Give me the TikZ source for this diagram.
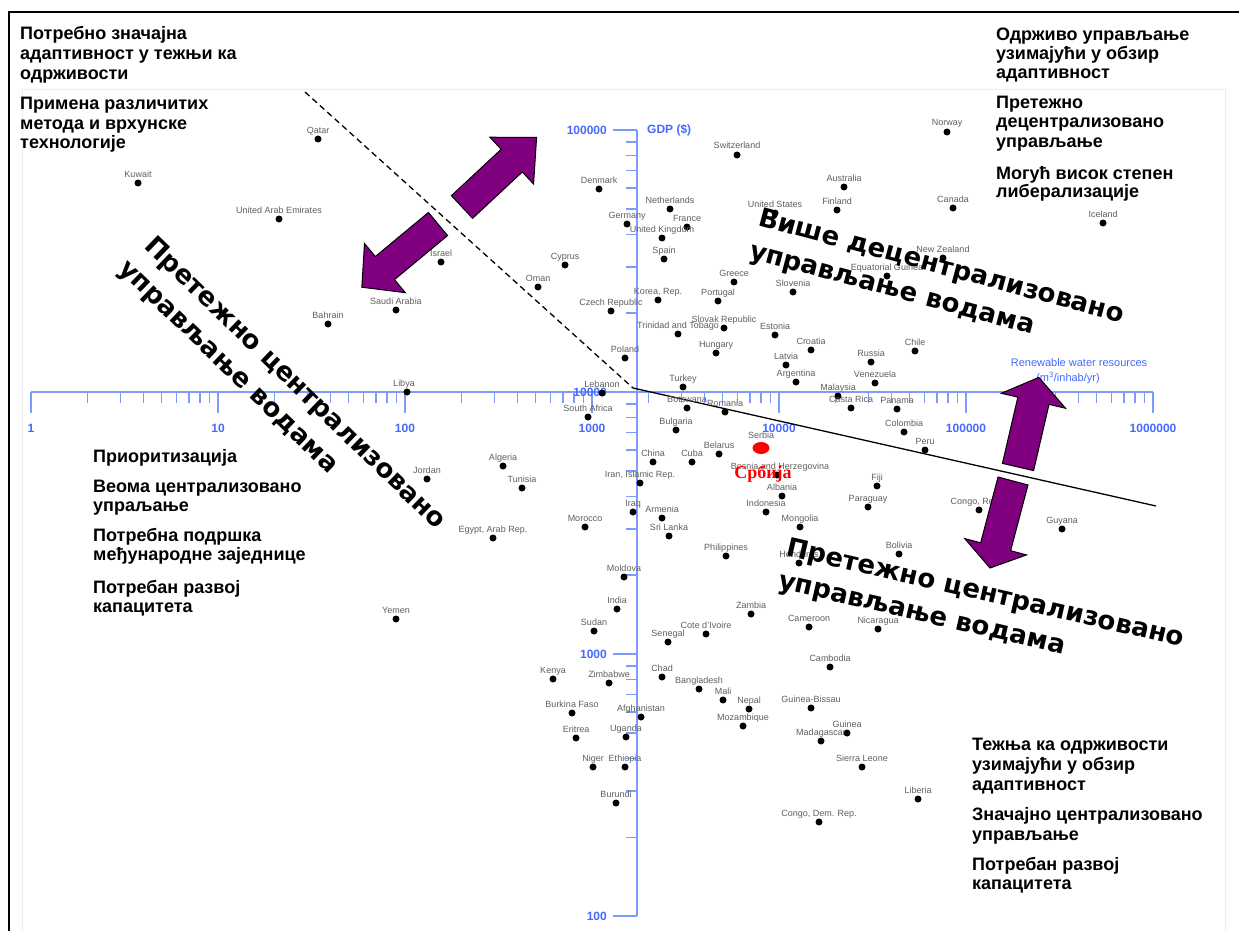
\documentclass[tikz,border=0pt]{standalone}
\usepackage{fontspec}
\setmainfont{Liberation Sans}
\newfontfamily\dvfont{DejaVu Sans}
\newfontfamily\rsfont{Liberation Serif}
\usetikzlibrary{calc,shapes.geometric}
\definecolor{axisblue}{RGB}{125,155,255}
\definecolor{labelblue}{RGB}{70,105,255}
\definecolor{arrowpurple}{RGB}{128,0,128}
\definecolor{ctrygray}{RGB}{95,95,95}
\tikzset{
 dot/.style={circle, fill=black, inner sep=0pt, minimum size=7pt},
 clabel/.style={font=\fontsize{9}{9}\selectfont, text=ctrygray, inner sep=0pt, anchor=base},
 axisline/.style={draw=axisblue, line width=1.3pt},
 axislabel/.style={font=\fontsize{12}{12}\selectfont\bfseries, text=labelblue, inner sep=0pt},
 blockarrow/.style={fill=arrowpurple, draw=black, line width=1pt, line join=miter},
 bigtext/.style={font=\fontsize{26}{26}\selectfont\dvfont\bfseries, inner sep=0pt, anchor=base west},
 info/.style={font=\fontsize{18}{20}\selectfont\bfseries, inner sep=0pt, anchor=base west},
 serbdot/.style={ellipse, fill=red, inner sep=0pt, minimum width=17pt, minimum height=12pt},
}
\newcommand\ctry[5][0]{%
 \node[dot] (#2) at (#3,#4) {};
 \node[clabel] (#2-l) at ([xshift=#1pt,yshift=6pt]#2.center) {#5};}
\newcommand\blockarr[6]{%
 \draw[blockarrow, shift={(#1)}, rotate=#2] (0,#4) -- ({#3-#6},#4) -- ({#3-#6},#5) -- (#3,0) -- ({#3-#6},-#5) -- ({#3-#6},-#4) -- (0,-#4) -- cycle;}
\begin{document}
\begin{tikzpicture}[x=1pt,y=-1pt]
\useasboundingbox (0,0) rectangle (1239,931);
\fill[white] (0,0) rectangle (1239,931);
% faint inner frame and outer frame
\draw[black!7, line width=1pt] (22,931) -- (22,90) -- (1225,90) -- (1225,931);
\draw[black, line width=2pt] (9,931) -- (9,12) -- (1239,12);
% x axis
\draw[axisline] (31,392) -- (1153,392);
\foreach \d in {0,...,6} \draw[axisline] ({31+187*\d},392) -- ({31+187*\d},413);
\foreach \d in {0,...,5} \foreach \k in {2,...,9} \draw[axisline] ({31+187*(\d+log10(\k))},392) -- ({31+187*(\d+log10(\k))},403);
\foreach \d/\t in {0/1,1/10,2/100,3/1000,4/10000,5/100000,6/1000000} \node[axislabel] at ({31+187*\d},428) {\t};
% y axis
\draw[axisline] (637,130) -- (637,916);
\foreach \j in {0,...,3} \draw[axisline] (613,{130+262*\j}) -- (637,{130+262*\j});
\foreach \e in {0,1,2} \foreach \k in {2,...,9} \draw[axisline] (626,{916-262*(\e+log10(\k))}) -- (637,{916-262*(\e+log10(\k))});
\foreach \j/\t in {0/100000,1/10000,2/1000,3/100} \node[axislabel, anchor=east] at (607,{130+262*\j}) {\t};
\node[axislabel, anchor=west] (gdp) at (647,130) {GDP (\$)};
\node[font=\fontsize{11}{11}\selectfont, text=labelblue, inner sep=0pt] (rwr) at (1079,363) {Renewable water resources};
\node[font=\fontsize{11}{11}\selectfont, text=labelblue, inner sep=0pt] (rwr2) at (1068,378) {(m\textsuperscript{3}/inhab/yr)};
% division lines
\coordinate (dA) at (305,92);
\coordinate (dO) at (633,388);
\coordinate (dB) at (1156,506);
\draw[black, line width=1.3pt, dash pattern=on 6pt off 4pt] (dA) -- (dO);
\draw[black, line width=1.3pt] (dO) -- (dB);
% countries
\ctry{qat}{318}{139}{Qatar}
\ctry{kuw}{138}{183}{Kuwait}
\ctry{uae}{279}{219}{United Arab Emirates}
\ctry{isr}{441}{262}{Israel}
\ctry{oma}{538}{287}{Oman}
\ctry{sau}{396}{310}{Saudi Arabia}
\ctry{bhr}{328}{324}{Bahrain}
\ctry{che}{737}{155}{Switzerland}
\ctry{dnk}{599}{189}{Denmark}
\ctry{nld}{670}{209}{Netherlands}
\ctry{deu}{627}{224}{Germany}
\ctry{fra}{687}{227}{France}
\ctry{gbr}{662}{238}{United Kingdom}
\ctry{esp}{664}{259}{Spain}
\ctry{cyp}{565}{265}{Cyprus}
\ctry{kor}{658}{300}{Korea, Rep.}
\ctry{cze}{611}{311}{Czech Republic}
\ctry{prt}{718}{301}{Portugal}
\ctry{grc}{734}{282}{Greece}
\ctry{svn}{793}{292}{Slovenia}
\ctry{tto}{678}{334}{Trinidad and Tobago}
\ctry{svk}{724}{328}{Slovak Republic}
\ctry{est}{775}{335}{Estonia}
\ctry{hrv}{811}{350}{Croatia}
\ctry{chl}{915}{351}{Chile}
\ctry{pol}{625}{358}{Poland}
\ctry{hun}{716}{353}{Hungary}
\ctry{lva}{786}{365}{Latvia}
\ctry{rus}{871}{362}{Russia}
\ctry{tur}{683}{387}{Turkey}
\ctry{arg}{796}{382}{Argentina}
\ctry{ven}{875}{383}{Venezuela}
\ctry{mys}{838}{396}{Malaysia}
\ctry{cri}{851}{408}{Costa Rica}
\ctry{pan}{897}{409}{Panama}
\ctry{bwa}{687}{408}{Botswana}
\ctry{rou}{725}{412}{Romania}
\ctry{bgr}{676}{430}{Bulgaria}
\ctry{col}{904}{432}{Colombia}
\ctry{per}{925}{450}{Peru}
\ctry[-3]{lby}{407}{392}{Libya}
\ctry{lbn}{602}{393}{Lebanon}
\ctry{zaf}{588}{417}{South Africa}
\ctry{jor}{427}{479}{Jordan}
\ctry{dza}{503}{466}{Algeria}
\ctry{tun}{522}{488}{Tunisia}
\ctry{chn}{653}{462}{China}
\ctry{cub}{692}{462}{Cuba}
\ctry{blr}{719}{454}{Belarus}
\ctry[3]{bih}{777}{475}{Bosnia and Herzegovina}
\ctry{irn}{640}{483}{Iran, Islamic Rep.}
\ctry{alb}{782}{496}{Albania}
\ctry{irq}{633}{512}{Iraq}
\ctry{arm}{662}{518}{Armenia}
\ctry{idn}{766}{512}{Indonesia}
\ctry{mar}{585}{527}{Morocco}
\ctry{egy}{493}{538}{Egypt, Arab Rep.}
\ctry{lka}{669}{536}{Sri Lanka}
\ctry{mng}{800}{527}{Mongolia}
\ctry{phl}{726}{556}{Philippines}
\ctry{hnd}{799}{563}{Honduras}
\ctry{bol}{899}{554}{Bolivia}
\ctry{fji}{877}{486}{Fiji}
\ctry{pry}{868}{507}{Paraguay}
\ctry[-3]{cog}{979}{510}{Congo, Rep.}
\ctry{guy}{1062}{529}{Guyana}
\ctry{nor}{947}{132}{Norway}
\ctry{aus}{844}{187}{Australia}
\ctry{fin}{837}{210}{Finland}
\ctry{usa}{775}{213}{United States}
\ctry{can}{953}{208}{Canada}
\ctry{isl}{1103}{223}{Iceland}
\ctry{nzl}{943}{258}{New Zealand}
\ctry{gnq}{887}{276}{Equatorial Guinea}
\ctry{yem}{396}{619}{Yemen}
\ctry{mda}{624}{577}{Moldova}
\ctry{ind}{617}{609}{India}
\ctry{sdn}{594}{631}{Sudan}
\ctry{sen}{668}{642}{Senegal}
\ctry{civ}{706}{634}{Cote d'Ivoire}
\ctry{zmb}{751}{614}{Zambia}
\ctry{cmr}{809}{627}{Cameroon}
\ctry{nic}{878}{629}{Nicaragua}
\ctry{khm}{830}{667}{Cambodia}
\ctry{ken}{553}{679}{Kenya}
\ctry{zwe}{609}{683}{Zimbabwe}
\ctry{tcd}{662}{677}{Chad}
\ctry{bgd}{699}{689}{Bangladesh}
\ctry{mli}{723}{700}{Mali}
\ctry{npl}{749}{709}{Nepal}
\ctry{moz}{743}{726}{Mozambique}
\ctry{gnb}{811}{708}{Guinea-Bissau}
\ctry{bfa}{572}{713}{Burkina Faso}
\ctry{afg}{641}{717}{Afghanistan}
\ctry{eri}{576}{738}{Eritrea}
\ctry{uga}{626}{737}{Uganda}
\ctry{gin}{847}{733}{Guinea}
\ctry{mdg}{821}{741}{Madagascar}
\ctry{ner}{593}{767}{Niger}
\ctry{eth}{625}{767}{Ethiopia}
\ctry{sle}{862}{767}{Sierra Leone}
\ctry{lbr}{918}{799}{Liberia}
\ctry{bdi}{616}{803}{Burundi}
\ctry{cod}{819}{822}{Congo, Dem. Rep.}
% Serbia
\node[serbdot] (srb) at (761,448) {};
\node[clabel] (srb-l) at ([yshift=10pt]srb.center) {Serbia};
\node[font=\fontsize{18}{18}\selectfont\rsfont\bfseries, text=red, inner sep=0pt, anchor=base] (srb-c) at (763,478) {Србија};
% block arrows
\blockarr{462,207}{43}{102}{15.5}{32}{34}
\blockarr{438,224}{219.7}{99}{15}{32}{30}
\blockarr{1018,467}{76.9}{92}{16}{33}{24}
\blockarr{1013,481}{255.2}{90}{15.5}{32}{22}
% big rotated texts
\node[bigtext, rotate=-15] (ur1) at (757,225) {Више децентрализовано};
\node[bigtext, rotate=-15] (ur2) at (748,258) {управљање водама};
\node[bigtext, rotate=-44] (ul1) at (143,247) {Претежно централизовано};
\node[bigtext, rotate=-44] (ul2) at (117,270) {управљање водама};
\node[bigtext, rotate=-13] (lr1) at (785,555) {Претежно централизовано};
\node[bigtext, rotate=-13] (lr2) at (777,588) {управљање водама};
% info texts top-left
\node[info] (tl1) at (20,39.5) {Потребно значајна};
\node[info] (tl2) at (20,60) {адаптивност у тежњи ка};
\node[info] (tl3) at (20,80) {одрживости};
\node[info] (tl4) at (20,109.5) {Примена различитих};
\node[info] (tl5) at (20,129) {метода и врхунске};
\node[info] (tl6) at (20,148.5) {технологије};
% top-right
\node[info] (tr1) at (996,41) {Одрживо управљање};
\node[info] (tr2) at (996,60) {узимајући у обзир};
\node[info] (tr3) at (996,78.5) {адаптивност};
\node[info] (tr4) at (996,109) {Претежно};
\node[info] (tr5) at (996,128) {децентрализовано};
\node[info] (tr6) at (996,147) {управљање};
\node[info] (tr7) at (996,179) {Могућ висок степен};
\node[info] (tr8) at (996,197.5) {либерализације};
% bottom-left
\node[info] (bl1) at (93,462) {Приоритизација};
\node[info] (bl2) at (93,492) {Веома централизовано};
\node[info] (bl3) at (93,511) {упраљање};
\node[info] (bl4) at (93,541.5) {Потребна подршка};
\node[info] (bl5) at (93,560) {међународне заједнице};
\node[info] (bl6) at (93,593) {Потребан развој};
\node[info] (bl7) at (93,612) {капацитета};
% bottom-right
\node[info] (br1) at (972,750) {Тежња ка одрживости};
\node[info] (br2) at (972,770) {узимајући у обзир};
\node[info] (br3) at (972,790) {адаптивност};
\node[info] (br4) at (972,820) {Значајно централизовано};
\node[info] (br5) at (972,840) {управљање};
\node[info] (br6) at (972,870) {Потребан развој};
\node[info] (br7) at (972,889) {капацитета};
\end{tikzpicture}
\end{document}
